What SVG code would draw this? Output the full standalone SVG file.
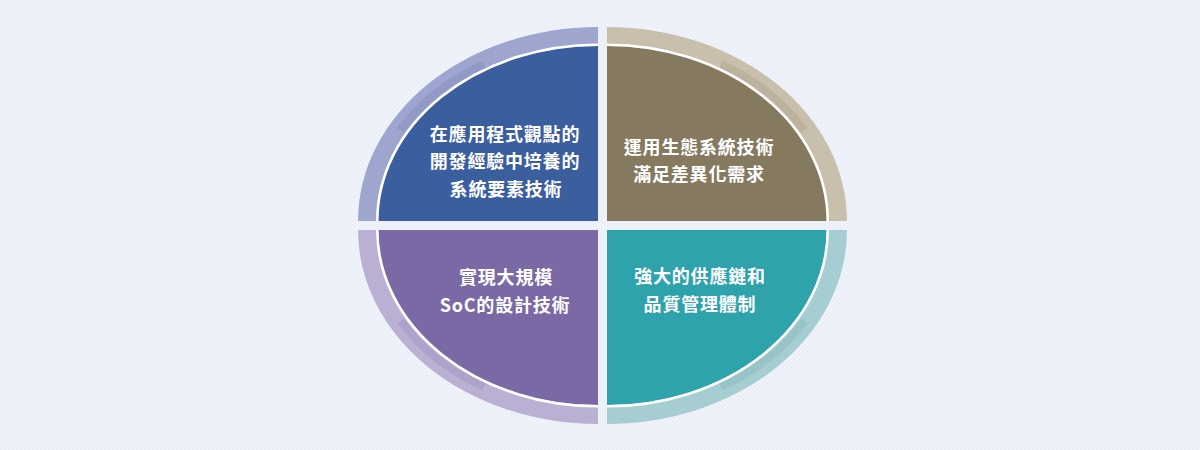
<svg xmlns="http://www.w3.org/2000/svg" width="1200" height="450" viewBox="0 0 1200 450">
  <defs>
    <pattern id="dots" width="4" height="4" patternUnits="userSpaceOnUse">
      <rect width="4" height="4" fill="#f0f4fa"/>
      <circle cx="1" cy="1" r="0.8" fill="#e3e9f4"/>
      <circle cx="3" cy="3" r="0.8" fill="#e3e9f4"/>
    </pattern>
  </defs>
  <style>
    .sep { fill: none; stroke: #ffffff; stroke-width: 2.6; }
    .band { fill: none; stroke-width: 8; stroke-linecap: butt; }
    .label { font-family: "Noto Sans CJK TC", "Noto Sans CJK SC", "Liberation Sans", sans-serif; font-size: 18px; font-weight: bold; fill: #ffffff; text-anchor: middle; letter-spacing: 0.8px; }
  </style>
  <rect width="1200" height="450" fill="url(#dots)"/>

  <g id="quadrant-top-left">
    <path d="M598,221 L358,221 A240 194 0 0 1 598,27 Z" fill="#9ea6cf"/>
    <path class="band" d="M400.5,130.5 A228 181 0 0 1 484,64.2" stroke="#9199c6"/>
    <path d="M598,221 L378,221 A220 175 0 0 1 598,46 Z" fill="#3a5e9e"/>
    <path class="sep" d="M377.3,221 A220.7 176.3 0 0 1 598,44.7"/>
    <text class="label" x="505" y="141">在應用程式觀點的</text>
    <text class="label" x="505" y="168">開發經驗中培養的</text>
    <text class="label" x="506" y="196">系統要素技術</text>
  </g>

  <g id="quadrant-top-right">
    <path d="M607,221 L847,221 A240 194 0 0 0 607,27 Z" fill="#c8bfad"/>
    <path class="band" d="M721,64.2 A228 181 0 0 1 804.5,130.5" stroke="#bcb29d"/>
    <path d="M607,221 L827,221 A220 175 0 0 0 607,46 Z" fill="#857a5f"/>
    <path class="sep" d="M827.7,221 A220.7 176.3 0 0 0 607,44.7"/>
    <text class="label" x="699" y="154">運用生態系統技術</text>
    <text class="label" x="699" y="181">滿足差異化需求</text>
  </g>

  <g id="quadrant-bottom-left">
    <path d="M598,230 L358,230 A240 194 0 0 0 598,424 Z" fill="#bab0d4"/>
    <path class="band" d="M484,386.8 A228 181 0 0 1 400.5,320.5" stroke="#ada2ca"/>
    <path d="M598,230 L378,230 A220 175 0 0 0 598,405 Z" fill="#7a69a5"/>
    <path class="sep" d="M377.3,230 A220.7 176.3 0 0 0 598,406.3"/>
    <text class="label" x="506" y="284">實現大規模</text>
    <text class="label" x="505" y="312">SoC的設計技術</text>
  </g>

  <g id="quadrant-bottom-right">
    <path d="M607,230 L847,230 A240 194 0 0 1 607,424 Z" fill="#a6cdd1"/>
    <path class="band" d="M804.5,320.5 A228 181 0 0 1 721,386.8" stroke="#98c4c8"/>
    <path d="M607,230 L827,230 A220 175 0 0 1 607,405 Z" fill="#2ea3ac"/>
    <path class="sep" d="M827.7,230 A220.7 176.3 0 0 1 607,406.3"/>
    <text class="label" x="700" y="283">強大的供應鏈和</text>
    <text class="label" x="700" y="311">品質管理體制</text>
  </g>

  <g id="connectors"/>
</svg>
